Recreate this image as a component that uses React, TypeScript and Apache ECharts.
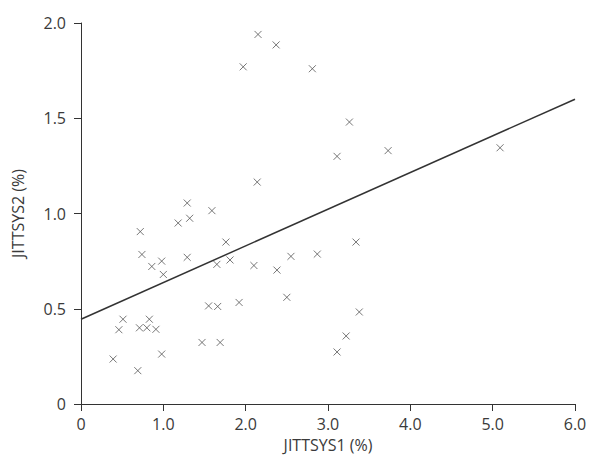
import React, { useEffect, useRef } from "react";
import * as echarts from "echarts";

const jitt1: number[] = [
  2.15, 2.37, 1.97, 2.81, 3.26, 3.73, 5.09, 3.11, 2.14, 1.29,
  1.59, 1.32, 1.18, 0.72, 1.76, 3.34, 0.74, 1.29, 2.87, 2.55,
  1.81, 0.98, 1.65, 2.1, 0.86, 2.38, 1.0, 2.5, 1.92, 1.55,
  1.66, 3.38, 0.51, 0.83, 0.46, 0.71, 0.8, 0.91, 3.22, 1.47,
  1.69, 3.11, 0.98, 0.39, 0.69,
];
const jitt2: number[] = [
  1.94, 1.885, 1.77, 1.76, 1.48, 1.33, 1.345, 1.3, 1.165, 1.055,
  1.015, 0.975, 0.95, 0.905, 0.85, 0.85, 0.785, 0.77, 0.787, 0.775,
  0.756, 0.75, 0.733, 0.727, 0.722, 0.703, 0.68, 0.56, 0.533, 0.515,
  0.512, 0.483, 0.445, 0.445, 0.39, 0.4, 0.4, 0.392, 0.357, 0.323,
  0.323, 0.273, 0.262, 0.236, 0.175,
];
const fitX: number[] = [0, 6];
const fitY: number[] = [0.445, 1.6];
const xTickLabels: string[] = ["0", "1.0", "2.0", "3.0", "4.0", "5.0", "6.0"];
const yTickLabels: string[] = ["0", "0.5", "1.0", "1.5", "2.0"];

export default function App() {
  const ref = useRef<HTMLDivElement>(null);
  useEffect(() => {
    if (!ref.current) return;
    const chart = echarts.init(ref.current, undefined, { renderer: "svg" });
    const font = "Open Sans";
    chart.setOption({
      animation: false,
      backgroundColor: "#ffffff",
      grid: { left: 81, right: 15, top: 23, bottom: 61, containLabel: false },
      xAxis: {
        type: "value",
        min: 0,
        max: 6,
        interval: 1,
        name: "JITTSYS1 (%)",
        nameLocation: "middle",
        nameGap: 32,
        nameTextStyle: { color: "#3a3a3a", fontSize: 16, fontFamily: font },
        axisLine: { show: true, lineStyle: { color: "#333", width: 1 } },
        axisTick: { show: true, inside: false, length: 7, lineStyle: { color: "#333" } },
        axisLabel: {
          color: "#3a3a3a",
          fontSize: 16,
          fontFamily: font,
          margin: 12,
          formatter: (v: number) => xTickLabels[Math.round(v)] ?? "",
        },
        splitLine: { show: false },
      },
      yAxis: {
        type: "value",
        min: 0,
        max: 2,
        interval: 0.5,
        name: "JITTSYS2 (%)",
        nameLocation: "middle",
        nameGap: 55,
        nameTextStyle: { color: "#3a3a3a", fontSize: 16, fontFamily: font },
        axisLine: { show: true, lineStyle: { color: "#333", width: 1 } },
        axisTick: { show: true, inside: false, length: 7, lineStyle: { color: "#333" } },
        axisLabel: {
          color: "#3a3a3a",
          fontSize: 16,
          fontFamily: font,
          margin: 15,
          formatter: (v: number) => yTickLabels[Math.round(v * 2)] ?? "",
        },
        splitLine: { show: false },
      },
      series: [
        {
          type: "line",
          data: fitX.map((x, i) => [x, fitY[i]]),
          showSymbol: false,
          symbol: "none",
          lineStyle: { color: "#333", width: 1.5 },
          silent: true,
          z: 1,
        },
        {
          type: "scatter",
          data: jitt1.map((x, i) => [x, jitt2[i]]),
          symbol: "path://M0,0L10,10M10,0L0,10",
          symbolSize: 7,
          itemStyle: { color: "none", borderColor: "#555", borderWidth: 1 },
          z: 2,
        },
      ],
    });
    return () => chart.dispose();
  }, []);
  return (
    <div
      ref={ref}
      style={{ position: "absolute", left: 0, top: 0, width: 590, height: 465 }}
    />
  );
}
